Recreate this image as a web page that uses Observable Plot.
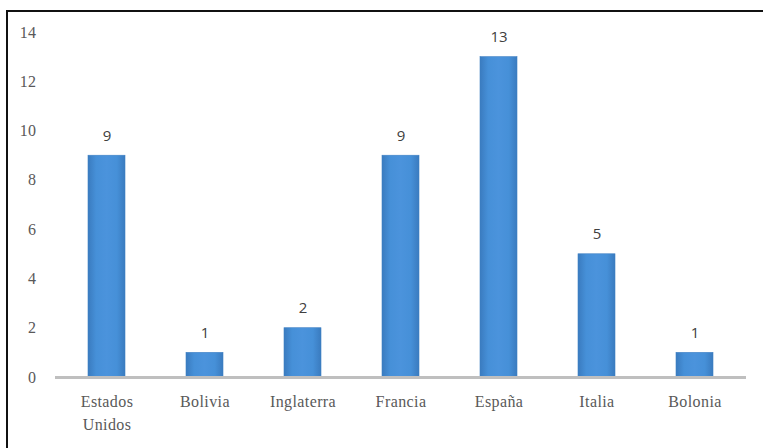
<!DOCTYPE html>
<html>
<head>
<meta charset="utf-8">
<script src="https://cdn.jsdelivr.net/npm/d3@7"></script>
<script src="https://cdn.jsdelivr.net/npm/@observablehq/plot@0.6"></script>
<style>
  html, body { margin: 0; padding: 0; background: #fff; }
  #wrap { position: relative; width: 763px; height: 448px; overflow: hidden; }
  #frame { position: absolute; left: 6px; top: 10px; width: 800px; height: 500px;
           border-top: 2px solid #111; border-left: 2px solid #111; box-sizing: border-box; }
  #chart { position: absolute; left: 0; top: 0; }
  #chart text.serif { letter-spacing: 0.4px; }
</style>
</head>
<body>
<div id="wrap"><div id="frame"></div><div id="chart"></div></div>
<script>
// Número de registros por país / ciudad
const categories = ["Estados Unidos", "Bolivia", "Inglaterra", "Francia", "España", "Italia", "Bolonia"];
const values = [9, 1, 2, 9, 13, 5, 1];
const yTicks = [0, 2, 4, 6, 8, 10, 12, 14];

const data = categories.map((c, i) => ({category: c, value: values[i]}));

const serif = "'Liberation Serif', 'DejaVu Serif', serif";
const sans = "'Open Sans', 'Liberation Sans', sans-serif";

const chart = Plot.plot({
  width: 763,
  height: 448,
  marginLeft: 55,
  marginRight: 17,
  marginTop: 32,
  marginBottom: 71,
  style: {background: "transparent", overflow: "visible"},
  x: {domain: categories, paddingInner: 0.625, paddingOuter: 0.3125, label: null},
  y: {domain: [0, 14], label: null},
  marks: [
    Plot.axisY({
      ticks: yTicks, tickSize: 0, tickPadding: 19, label: null,
      fontFamily: serif, fontSize: 16, fill: "#595959"
    }),
    Plot.axisX({
      tickSize: 0, tickPadding: 14, label: null,
      fontFamily: serif, fontSize: 16, fill: "#595959",
      lineWidth: 5, lineHeight: 1.4
    }),
    Plot.barY(data, {x: "category", y: "value", fill: "url(#barGrad)", stroke: "#3f80c4", strokeWidth: 0.6}),
    Plot.ruleY([0], {stroke: "#bfbfbf", strokeWidth: 3}),
    Plot.text(data, {
      x: "category", y: "value", text: d => String(d.value), dy: -20,
      fontFamily: sans, fontSize: 15, fill: "#404040"
    })
  ]
});

// Horizontal shading on the bars
const defs = d3.select(chart).insert("defs", ":first-child");
const grad = defs.append("linearGradient").attr("id", "barGrad")
  .attr("x1", "0%").attr("x2", "100%").attr("y1", "0%").attr("y2", "0%");
grad.append("stop").attr("offset", "0%").attr("stop-color", "#3a7bbf");
grad.append("stop").attr("offset", "22%").attr("stop-color", "#4690d8");
grad.append("stop").attr("offset", "50%").attr("stop-color", "#4b93dc");
grad.append("stop").attr("offset", "78%").attr("stop-color", "#4690d8");
grad.append("stop").attr("offset", "100%").attr("stop-color", "#3a7bbf");

// Slightly open spacing on the serif axis labels
d3.select(chart).selectAll("g[aria-label='x-axis tick label'] text, g[aria-label='y-axis tick label'] text")
  .classed("serif", true);

document.getElementById("chart").appendChild(chart);
</script>
</body>
</html>
